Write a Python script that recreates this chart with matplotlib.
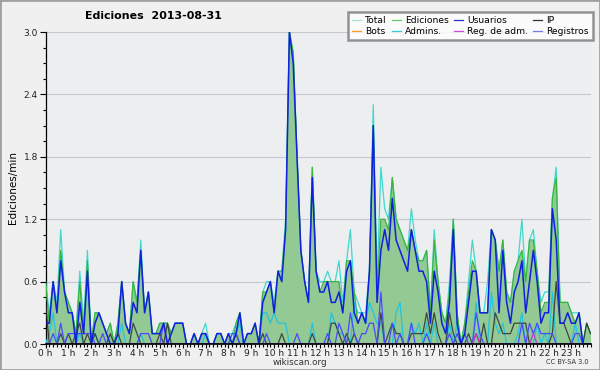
import numpy as np
import matplotlib.pyplot as plt
from matplotlib.lines import Line2D
from matplotlib.patches import Rectangle

# edits per 10-minute slot, 144 slots (00:00 .. 23:50)
total = [6, 3, 6, 4, 11, 5, 4, 3, 1, 7, 2, 9, 0, 3, 3, 2, 1, 2, 0, 2,
         6, 2, 1, 6, 4, 10, 3, 5, 1, 1, 2, 2, 2, 1, 2, 2, 2, 0, 0, 1,
         0, 1, 2, 0, 0, 1, 1, 0, 1, 1, 2, 3, 0, 1, 1, 2, 0, 5, 6, 6,
         4, 7, 7, 12, 30, 28, 18, 9, 6, 4, 17, 7, 6, 6, 7, 6, 6, 8, 4, 8,
         11, 5, 4, 3, 3, 7, 23, 6, 17, 13, 12, 16, 12, 11, 10, 9, 13, 10, 8, 8,
         9, 3, 11, 6, 3, 2, 6, 12, 3, 0, 2, 6, 10, 7, 3, 3, 6, 11, 10, 7,
         10, 5, 4, 7, 8, 12, 6, 10, 11, 7, 4, 5, 5, 14, 17, 4, 4, 4, 3, 3,
         3, 0, 2, 1]
ediciones = [6, 2, 6, 3, 9, 5, 4, 3, 1, 6, 1, 8, 0, 3, 3, 2, 1, 2, 0, 2,
             6, 2, 1, 6, 4, 9, 3, 5, 1, 1, 2, 2, 2, 1, 2, 2, 2, 0, 0, 1,
             0, 1, 1, 0, 0, 1, 1, 0, 1, 0, 2, 3, 0, 1, 1, 2, 0, 5, 5, 6,
             3, 7, 7, 11, 30, 28, 18, 9, 6, 4, 17, 7, 5, 6, 6, 6, 6, 6, 3, 8,
             8, 5, 2, 3, 2, 7, 21, 5, 12, 12, 11, 16, 12, 11, 10, 9, 11, 9, 8, 8,
             9, 3, 10, 6, 3, 2, 5, 12, 3, 0, 2, 5, 8, 7, 3, 3, 3, 11, 10, 7,
             10, 5, 4, 7, 8, 9, 6, 10, 10, 7, 3, 4, 4, 14, 16, 4, 4, 4, 3, 2,
             3, 0, 2, 1]
usuarios = [2, 2, 6, 3, 8, 5, 3, 3, 0, 4, 1, 7, 0, 2, 3, 2, 1, 0, 0, 1,
            6, 2, 1, 4, 3, 9, 3, 5, 1, 1, 1, 2, 0, 1, 2, 2, 2, 0, 0, 1,
            0, 1, 1, 0, 0, 1, 1, 0, 1, 0, 1, 3, 0, 1, 1, 2, 0, 4, 5, 6,
            3, 7, 6, 11, 30, 27, 18, 9, 6, 4, 16, 7, 5, 5, 6, 4, 4, 5, 3, 7,
            8, 3, 2, 3, 2, 7, 21, 4, 9, 11, 9, 14, 10, 9, 8, 7, 11, 9, 7, 7,
            6, 2, 7, 5, 2, 1, 4, 11, 2, 0, 1, 4, 7, 7, 3, 3, 3, 11, 10, 3,
            9, 4, 2, 5, 6, 8, 3, 6, 9, 6, 2, 3, 3, 13, 10, 2, 2, 3, 2, 2,
            3, 0, 0, 0]
ip = [4, 0, 0, 0, 1, 0, 1, 0, 1, 2, 0, 1, 0, 1, 0, 0, 0, 1, 0, 1,
      0, 0, 0, 2, 1, 0, 0, 0, 0, 0, 1, 0, 2, 0, 0, 0, 0, 0, 0, 0,
      0, 0, 0, 0, 0, 0, 0, 0, 0, 0, 1, 0, 0, 0, 0, 0, 0, 1, 0, 0,
      0, 0, 1, 0, 0, 0, 0, 0, 0, 0, 1, 0, 0, 0, 0, 2, 2, 1, 0, 1,
      0, 1, 0, 0, 0, 0, 0, 0, 3, 0, 1, 2, 1, 1, 0, 0, 1, 1, 1, 1,
      3, 1, 3, 1, 0, 0, 3, 1, 0, 0, 0, 1, 0, 1, 0, 2, 0, 0, 3, 2,
      1, 1, 1, 2, 2, 2, 2, 0, 0, 0, 0, 0, 0, 1, 6, 2, 2, 1, 0, 0,
      0, 0, 2, 1]
bots = [0] * 144
admins = [0, 1, 3, 0, 0, 0, 0, 0, 0, 1, 0, 0, 0, 1, 0, 0, 0, 0, 0, 0,
          2, 0, 0, 0, 0, 1, 0, 0, 0, 0, 0, 0, 0, 0, 0, 0, 0, 0, 0, 0,
          0, 0, 1, 0, 0, 0, 0, 0, 0, 1, 1, 2, 0, 0, 0, 0, 0, 3, 3, 2,
          3, 2, 2, 2, 0, 0, 0, 0, 0, 0, 2, 0, 0, 0, 0, 3, 2, 1, 1, 0,
          0, 4, 3, 3, 2, 4, 3, 2, 2, 0, 0, 0, 3, 4, 0, 0, 2, 1, 2, 0,
          2, 0, 2, 0, 0, 0, 2, 0, 2, 0, 0, 0, 0, 4, 0, 0, 0, 5, 2, 1,
          2, 0, 0, 0, 1, 3, 0, 0, 0, 2, 0, 1, 0, 5, 0, 0, 0, 0, 0, 2,
          0, 0, 0, 0]
reg_adm = [0] * 113 + [1] + [0] * 14 + [1] + [0] * 15
registros = [0, 0, 1, 0, 2, 0, 1, 1, 1, 1, 1, 1, 1, 0, 0, 1, 0, 0, 0, 0,
             0, 0, 0, 0, 0, 1, 1, 1, 0, 0, 0, 2, 0, 0, 0, 0, 0, 0, 0, 0,
             0, 1, 1, 0, 0, 0, 0, 0, 0, 1, 1, 0, 0, 0, 0, 0, 0, 0, 1, 0,
             0, 0, 0, 0, 0, 0, 1, 0, 0, 0, 0, 0, 0, 0, 1, 0, 0, 2, 1, 0,
             3, 1, 0, 1, 1, 2, 2, 0, 5, 0, 0, 2, 0, 1, 0, 0, 2, 0, 0, 0,
             1, 0, 0, 0, 0, 0, 1, 0, 1, 0, 1, 0, 0, 3, 1, 0, 0, 0, 0, 0,
             0, 0, 0, 0, 0, 2, 0, 2, 1, 2, 1, 1, 1, 1, 0, 0, 0, 0, 0, 1,
             1, 0, 0, 0]
hour_labels = ['%d h' % h for h in range(24)]

x = np.arange(144)


def per_min(v):
    return np.array(v) / 10.0


fig = plt.figure(figsize=(6, 3.7), dpi=100, facecolor='#f0f0f0')
ax = fig.add_axes([45.5 / 600, 26 / 370, 545 / 600, 312 / 370])
ax.set_facecolor('#edeef0')

ax.plot(x, per_min(bots), color='#ff9922', lw=0.9, zorder=1)
ax.fill_between(x, 0, per_min(ediciones), color='#93c993', lw=0, zorder=2)
ax.plot(x, per_min(total), color='#40d8cc', lw=0.9, zorder=3)
ax.plot(x, per_min(ediciones), color='#3cb43c', lw=0.9, zorder=4)
ax.plot(x, per_min(admins), color='#22c4e0', lw=0.9, zorder=5)
ax.plot(x, per_min(ip), color='#303030', lw=0.9, alpha=0.85, zorder=6)
ax.plot(x, per_min(registros), color='#4a4aff', lw=0.9, zorder=7)
ax.plot(x, per_min(reg_adm), color='#cc33dd', lw=0.9, zorder=8)
ax.plot(x, per_min(usuarios), color='#1020e0', lw=1.1, zorder=9)

ax.set_xlim(0, 143)
ax.set_ylim(0, 3.0)
ax.set_xticks(np.arange(0, 144, 6))
ax.set_xticklabels(hour_labels)
ax.set_xticks(x, minor=True)
ax.set_yticks(np.arange(0, 3.01, 0.6))
ax.set_yticks(np.arange(0, 3.01, 0.15), minor=True)
ax.yaxis.set_major_formatter(plt.FuncFormatter(lambda v, p: '%.1f' % v))
ax.tick_params(axis='both', which='major', labelsize=6.5, length=3,
               width=0.8, pad=0.8, colors='#000000', labelcolor='#222222')
ax.tick_params(axis='both', which='minor', length=2.5, width=0.8)
ax.tick_params(axis='y', which='major', length=4, pad=1.5)
ax.grid(axis='y', which='major', color='#c8c8cc', lw=0.8, zorder=0)
ax.set_axisbelow(True)
for side in ('top', 'right'):
    ax.spines[side].set_visible(False)
ax.spines['left'].set_linewidth(0.9)
ax.spines['bottom'].set_linewidth(1.2)
ax.spines['bottom'].set_zorder(10)

ax.set_ylabel('Ediciones/min', fontsize=7.5, labelpad=4)
fig.text(153 / 600, 1 - 16 / 370, 'Ediciones  2013-08-31', fontsize=7.9,
         fontweight='bold', ha='center', va='center')
fig.text(0.5, 1 - 362.5 / 370, 'wikiscan.org', fontsize=6.3, ha='center',
         va='center', color='#333333')
fig.text(589 / 600, 1 - 362 / 370, 'CC BY-SA 3.0', fontsize=4.8, ha='right',
         va='center', color='#333333')

# legend, filled column by column
entries = [('Total', '#a8e4dc'), ('Bots', '#ff9922'),
           ('Ediciones', '#66cc66'), ('Admins.', '#33ccdd'),
           ('Usuarios', '#2233cc'), ('Reg. de adm.', '#cc44dd'),
           ('IP', '#333333'), ('Registros', '#7777ee')]
handles = [Line2D([], [], color=c, lw=0.9) for _, c in entries]
leg = fig.legend(handles, [n for n, _ in entries], ncol=4,
                 loc='upper right', bbox_to_anchor=(593 / 600, 1 - 12 / 370),
                 fontsize=6.6, frameon=True, fancybox=False,
                 handlelength=1.0, handletextpad=0.45, columnspacing=0.55,
                 labelspacing=0.2, borderpad=0.45, borderaxespad=0)
leg.get_frame().set_edgecolor('#7a7a7a')
leg.get_frame().set_linewidth(1.8)
leg.get_frame().set_facecolor('white')
leg.set_zorder(20)

fig.patches.append(Rectangle((0, 0), 1, 1, transform=fig.transFigure,
                             fill=False, edgecolor='#a0a0a0', lw=2))

fig.savefig('out.png', dpi=100, facecolor=fig.get_facecolor())
